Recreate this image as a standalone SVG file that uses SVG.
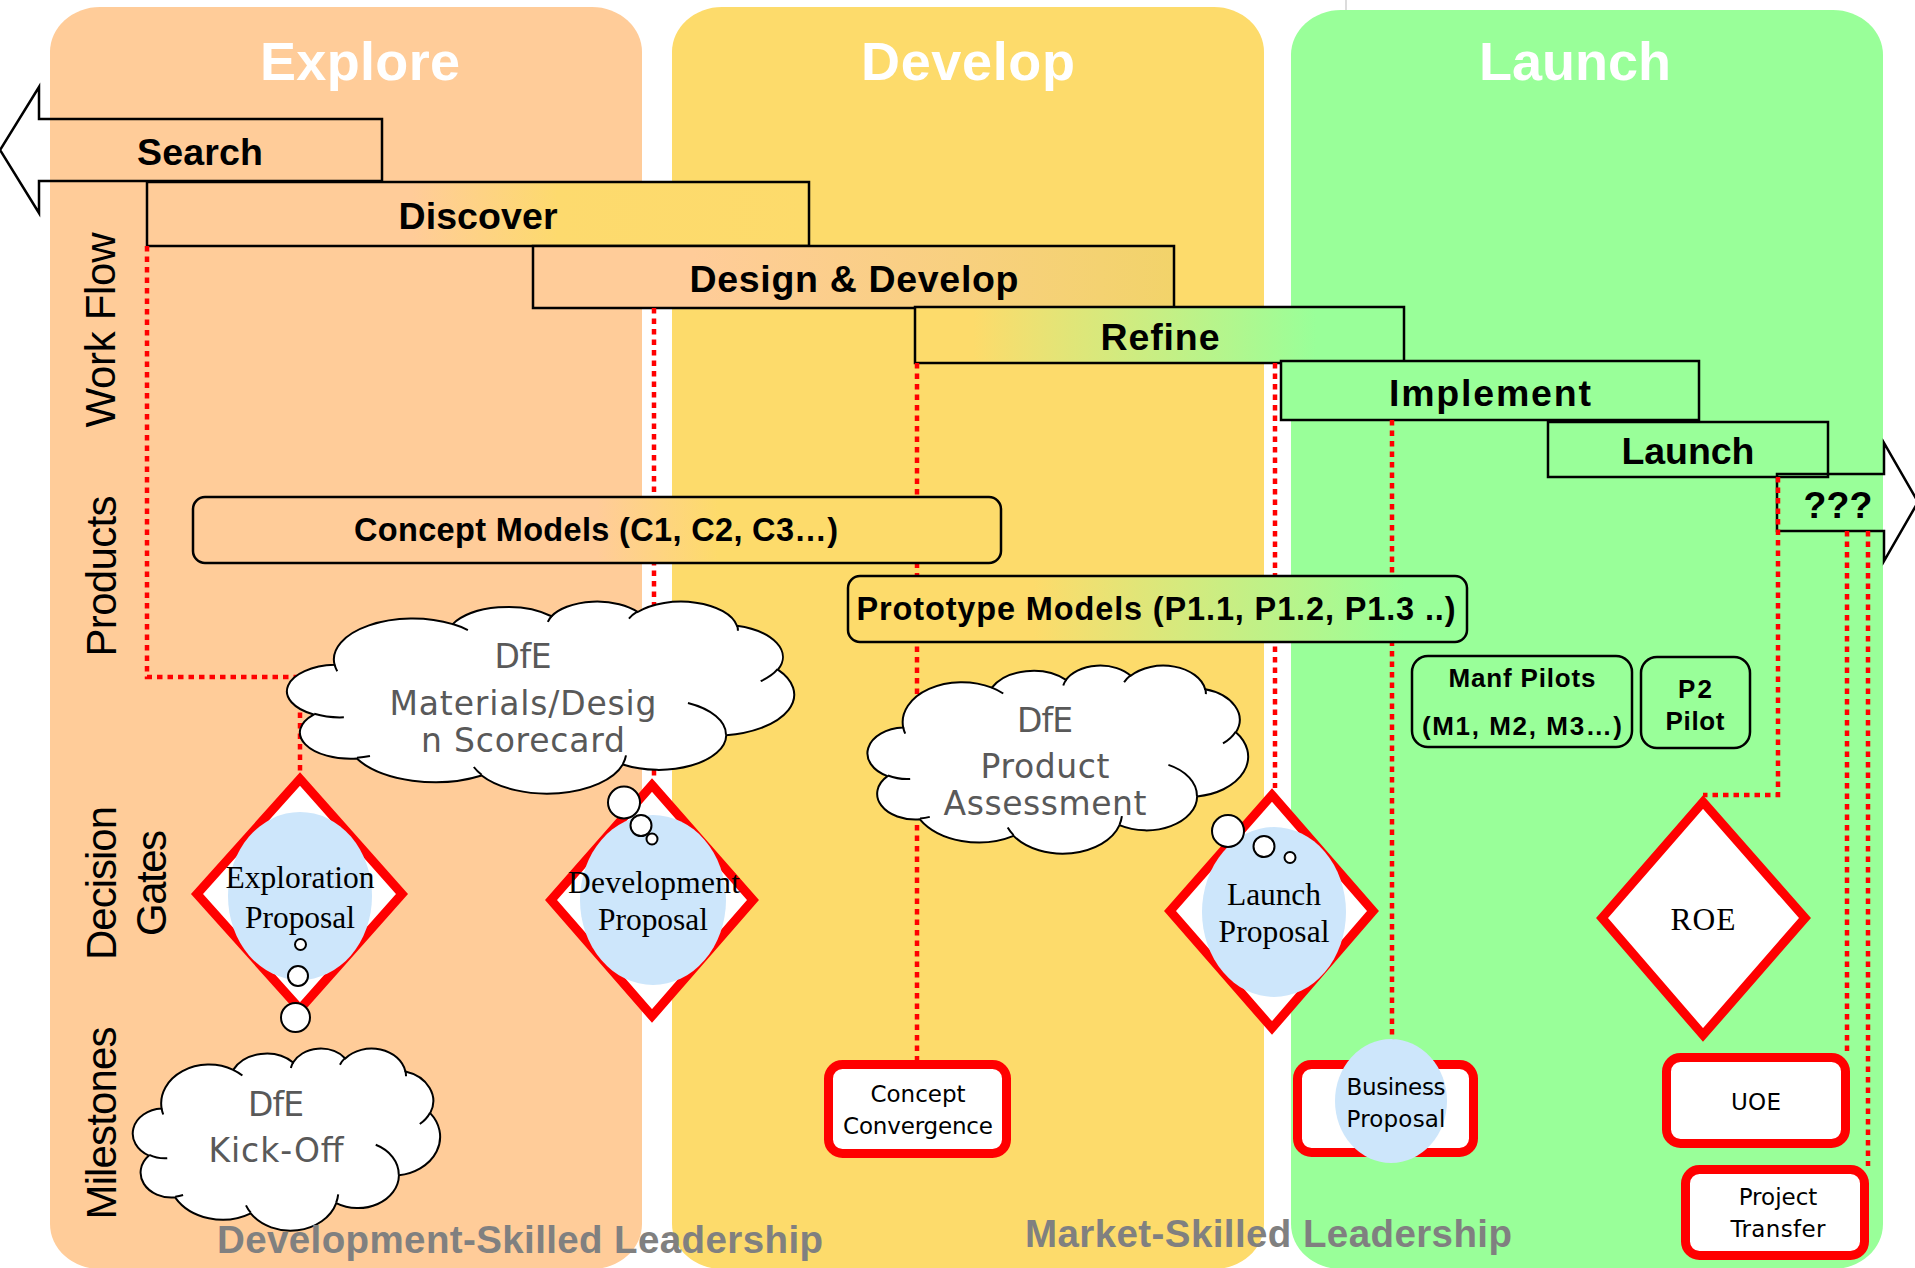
<svg xmlns="http://www.w3.org/2000/svg" width="1915" height="1268" viewBox="0 0 1915 1268">
<defs>
<style>
.title{font-family:"Liberation Sans",Arial,sans-serif;font-weight:bold;font-size:54px;fill:#fff;text-anchor:middle}
.side{font-family:"Liberation Sans",Arial,sans-serif;font-size:42px;fill:#000;text-anchor:middle}
.bar{stroke:#000;stroke-width:2.5}
.barText{font-family:"Liberation Sans",Arial,sans-serif;font-weight:bold;font-size:37.5px;fill:#000;text-anchor:middle}
.prod{stroke:#000;stroke-width:2.5}
.prodText{font-family:"Liberation Sans",Arial,sans-serif;font-weight:bold;font-size:32.5px;fill:#000;text-anchor:middle}
.pilotText{font-family:"Liberation Sans",Arial,sans-serif;font-weight:bold;font-size:26px;fill:#000;text-anchor:middle}
.dot{fill:none;stroke:#f00;stroke-width:4.5;stroke-dasharray:5.5 5}
.cloud{fill:#fff;stroke:#000;stroke-width:2}
.crease{fill:none;stroke:#000;stroke-width:2}
.cloudText{font-family:"DejaVu Sans",sans-serif;font-size:33px;fill:#595959;text-anchor:middle}
.gate{fill:#fff;stroke:#f00;stroke-width:9;stroke-linejoin:miter}
.bubbleBg{fill:#cde6fb}
.bubble{fill:#fff;stroke:#000;stroke-width:2}
.serif{font-family:"Liberation Serif","Times New Roman",serif;font-size:31.5px;fill:#000;text-anchor:middle}
.mile{fill:#fff;stroke:#f00;stroke-width:9}
.mileText{font-family:"DejaVu Sans",sans-serif;font-size:23px;fill:#000;text-anchor:middle}
.lead{font-family:"Liberation Sans",Arial,sans-serif;font-weight:bold;font-size:38.5px;fill:#808080}
</style>
<linearGradient id="gDisc" x1="0" y1="0" x2="1" y2="0"><stop offset="0" stop-color="#FFCC99"/><stop offset="0.4" stop-color="#FFCC99"/><stop offset="0.62" stop-color="#FDDA6E"/><stop offset="1" stop-color="#FDDB6B"/></linearGradient>
<linearGradient id="gDD" x1="0" y1="0" x2="1" y2="0"><stop offset="0" stop-color="#FFCC99"/><stop offset="0.25" stop-color="#FFCC99"/><stop offset="1" stop-color="#F2D36A"/></linearGradient>
<linearGradient id="gRef" x1="0" y1="0" x2="1" y2="0"><stop offset="0" stop-color="#FDDB6B"/><stop offset="0.12" stop-color="#FDDB6B"/><stop offset="0.82" stop-color="#99FF99"/><stop offset="1" stop-color="#99FF99"/></linearGradient>
<linearGradient id="gCon" x1="0" y1="0" x2="1" y2="0"><stop offset="0" stop-color="#FFCC99"/><stop offset="0.5" stop-color="#FFCC99"/><stop offset="0.65" stop-color="#FDDB6B"/><stop offset="1" stop-color="#FDDB6B"/></linearGradient>
<linearGradient id="gProto" x1="0" y1="0" x2="1" y2="0"><stop offset="0" stop-color="#FDDB6B"/><stop offset="0.3" stop-color="#FDDB6B"/><stop offset="0.9" stop-color="#99FF99"/><stop offset="1" stop-color="#99FF99"/></linearGradient>
<path id="cloudShape" vector-effect="non-scaling-stroke" d="M3900 14370 A6753 9190 0 0 1 14005 5202 A5333 7267 0 0 1 22456 3432 A4365 5945 0 0 1 29831 2478 A4857 6595 0 0 1 38317 5571 A5333 7273 0 0 1 41818 15455 A6775 9220 0 0 1 37403 30197 A5785 7867 0 0 1 28554 36807 A6752 9215 0 0 1 16479 39259 A7720 10543 0 0 1 5801 35466 A4360 5918 0 0 1 2110 25541 A4345 5945 0 0 1 3900 14370 Z"/>
<path id="cloudCrease" vector-effect="non-scaling-stroke" d="M4693 26177 A4345 5945 0 0 1 2159 25379 M6928 34899 A4360 5918 0 0 1 5819 35281 M16478 39090 A6752 9215 0 0 1 15809 37350 M28827 34751 A6752 9215 0 0 1 28560 36661 M34129 22954 A5785 7867 0 0 1 37380 30089 M41798 15354 A5333 7273 0 0 1 40350 18030 M38324 5426 A4857 6595 0 0 1 38401 6690 M29078 3952 A4857 6595 0 0 1 29819 2341 M22141 4720 A4365 5945 0 0 1 22500 3330 M14000 5192 A6753 9190 0 0 1 15302 6543 M4127 15789 A6753 9190 0 0 1 3900 14371"/>
</defs>

<rect width="1915" height="1268" fill="#fff"/>

<g id="panels">
<rect id="panel-explore" x="50" y="7" width="592" height="1262" rx="50" ry="45" fill="#FFCC99"/>
<rect id="panel-develop" x="672" y="7" width="592" height="1262" rx="50" ry="45" fill="#FDDB6B"/>
<rect id="panel-launch" x="1291" y="10" width="592" height="1259" rx="50" ry="45" fill="#99FF99"/>
<line x1="1346" y1="0" x2="1346" y2="10" stroke="#d0d0d0" stroke-width="1.5"/>
<text class="title" x="360" y="80" textLength="200">Explore</text>
<text class="title" x="968" y="80" textLength="214">Develop</text>
<text class="title" x="1575" y="80" textLength="192">Launch</text>
</g>

<g id="row-labels">
<text class="side" transform="translate(115 330) rotate(-90)" textLength="195">Work Flow</text>
<text class="side" transform="translate(116 576) rotate(-90)" textLength="161">Products</text>
<text class="side" transform="translate(116 883) rotate(-90)" textLength="154">Decision</text>
<text class="side" transform="translate(166 883) rotate(-90)" textLength="106">Gates</text>
<text class="side" transform="translate(116 1123) rotate(-90)" textLength="193">Milestones</text>
</g>

<g id="workflow">
<g id="bar-search"><polygon class="bar" fill="none" points="0,150 39,87 39,119 382,119 382,181 39,181 39,213"/><text class="barText" x="200" y="165" textLength="126">Search</text></g>
<g id="bar-discover"><rect class="bar" x="147" y="182" width="662" height="64" fill="url(#gDisc)"/><text class="barText" x="478" y="229" textLength="159">Discover</text></g>
<g id="bar-design"><rect class="bar" x="533" y="246" width="641" height="62" fill="url(#gDD)"/><text class="barText" x="854" y="292" textLength="329">Design &amp; Develop</text></g>
<g id="bar-refine"><rect class="bar" x="915" y="307" width="489" height="56" fill="url(#gRef)"/><text class="barText" x="1160" y="350" textLength="119">Refine</text></g>
<g id="bar-implement"><rect class="bar" x="1281" y="361" width="418" height="59" fill="#99FF99"/><text class="barText" x="1490" y="406" textLength="202">Implement</text></g>
<g id="bar-launch"><rect class="bar" x="1548" y="422" width="280" height="55" fill="#99FF99"/><text class="barText" x="1688" y="464" textLength="133">Launch</text></g>
<g id="bar-unknown"><polygon class="bar" fill="none" points="1777,474 1884,474 1884,443 1918,502 1884,561 1884,531 1777,531"/><text class="barText" x="1838" y="518" textLength="69">???</text></g>
</g>

<g id="connectors">
<path class="dot" d="M147,246 V677 H300 V773"/>
<path class="dot" d="M654,308 V778"/>
<path class="dot" d="M917,363 V1060"/>
<path class="dot" d="M1275,363 V788"/>
<path class="dot" d="M1392,420 V1040"/>
<path class="dot" d="M1778,477 V795 H1703"/>
<path class="dot" d="M1847,531 V1054"/>
<path class="dot" d="M1868,531 V1166"/>
</g>

<g id="products">
<g id="concept-models"><rect class="prod" x="193" y="497" width="808" height="66" rx="12" fill="url(#gCon)"/><text class="prodText" x="596" y="541" textLength="484">Concept Models (C1, C2, C3…)</text></g>
<g id="prototype-models"><rect class="prod" x="848" y="576" width="619" height="66" rx="12" fill="url(#gProto)"/><text class="prodText" x="1156" y="620" textLength="599">Prototype Models (P1.1, P1.2, P1.3 ..)</text></g>
<g id="manf-pilots"><rect class="prod" x="1412" y="656" width="220" height="91" rx="16" fill="#99FF99"/><text class="pilotText" x="1522" y="687" textLength="147">Manf Pilots</text><text class="pilotText" x="1522" y="735" textLength="200">(M1, M2, M3…)</text></g>
<g id="p2-pilot"><rect class="prod" x="1641" y="657" width="109" height="91" rx="16" fill="#99FF99"/><text class="pilotText" x="1695" y="698" textLength="34">P2</text><text class="pilotText" x="1695" y="730" textLength="59">Pilot</text></g>
</g>

<g id="cloud-materials">
<use href="#cloudShape" class="cloud" transform="translate(289 601) scale(0.011690 0.004444)"/>
<use href="#cloudCrease" class="crease" transform="translate(289 601) scale(0.011690 0.004444)"/>
<text class="cloudText" x="523" y="668" textLength="57">DfE</text>
<text class="cloudText" x="523" y="715" textLength="267">Materials/Desig</text>
<text class="cloudText" x="523" y="752" textLength="204">n Scorecard</text>
</g>

<g id="cloud-product">
<use href="#cloudShape" class="cloud" transform="translate(869 665) scale(0.008773 0.004352)"/>
<use href="#cloudCrease" class="crease" transform="translate(869 665) scale(0.008773 0.004352)"/>
<text class="cloudText" x="1045" y="732" textLength="56">DfE</text>
<text class="cloudText" x="1045" y="778" textLength="129">Product</text>
<text class="cloudText" x="1045" y="815" textLength="203">Assessment</text>
</g>

<g id="cloud-kickoff">
<use href="#cloudShape" class="cloud" transform="translate(134 1048) scale(0.007083 0.004213)"/>
<use href="#cloudCrease" class="crease" transform="translate(134 1048) scale(0.007083 0.004213)"/>
<text class="cloudText" x="276" y="1116" textLength="56">DfE</text>
<text class="cloudText" x="276" y="1162" textLength="135">Kick-Off</text>
</g>

<g id="gate-exploration">
<polygon class="gate" points="300,779 402,894 300,1009 197,894"/>
<ellipse class="bubbleBg" cx="300" cy="896" rx="72" ry="84"/>
<text class="serif" x="300" y="888" textLength="149">Exploration</text>
<text class="serif" x="300" y="928" textLength="110">Proposal</text>
<circle class="bubble" cx="300.5" cy="944.5" r="5.5"/>
<circle class="bubble" cx="298" cy="976" r="10"/>
<ellipse class="bubble" cx="295.5" cy="1017.5" rx="14.5" ry="14.5"/>
</g>

<g id="gate-development">
<polygon class="gate" points="652,785 753,900 652,1016 551,900"/>
<ellipse class="bubbleBg" cx="653" cy="900" rx="73" ry="85"/>
<text class="serif" x="654" y="893" textLength="172">Development</text>
<text class="serif" x="653" y="930" textLength="110">Proposal</text>
<circle class="bubble" cx="624" cy="802.5" r="16"/>
<circle class="bubble" cx="641" cy="825.5" r="10.5"/>
<circle class="bubble" cx="652" cy="839" r="5.5"/>
</g>

<g id="gate-launch">
<polygon class="gate" points="1272,795 1373,911 1272,1028 1170,911"/>
<ellipse class="bubbleBg" cx="1274" cy="912" rx="72" ry="85"/>
<text class="serif" x="1274" y="905" textLength="94">Launch</text>
<text class="serif" x="1274" y="942" textLength="111">Proposal</text>
<circle class="bubble" cx="1228" cy="831" r="16"/>
<circle class="bubble" cx="1264" cy="846.5" r="10.5"/>
<circle class="bubble" cx="1290" cy="857.5" r="5.5"/>
</g>

<g id="gate-roe">
<polygon class="gate" points="1703,802 1805,918 1703,1035 1602,918"/>
<text class="serif" x="1703" y="930" textLength="65">ROE</text>
</g>

<g id="milestone-concept">
<rect class="mile" x="828.5" y="1064.5" width="178" height="89" rx="14"/>
<text class="mileText" x="918" y="1102">Concept</text>
<text class="mileText" x="918" y="1134" textLength="150">Convergence</text>
</g>

<g id="milestone-business">
<rect class="mile" x="1297.5" y="1064.5" width="176" height="88" rx="14"/>
<ellipse class="bubbleBg" cx="1391" cy="1101" rx="56" ry="62"/>
<text class="mileText" x="1396" y="1095" textLength="99">Business</text>
<text class="mileText" x="1396" y="1127" textLength="99">Proposal</text>
</g>

<g id="milestone-uoe">
<rect class="mile" x="1666.5" y="1057.5" width="179" height="86" rx="14"/>
<text class="mileText" x="1756" y="1110" textLength="50">UOE</text>
</g>

<g id="milestone-transfer">
<rect class="mile" x="1685.5" y="1169.5" width="179" height="86" rx="14"/>
<text class="mileText" x="1778" y="1205">Project</text>
<text class="mileText" x="1778" y="1237" textLength="95">Transfer</text>
</g>

<g id="leadership">
<text class="lead" x="217" y="1253" textLength="606">Development-Skilled Leadership</text>
<text class="lead" x="1025" y="1247" textLength="487">Market-Skilled Leadership</text>
</g>
</svg>
